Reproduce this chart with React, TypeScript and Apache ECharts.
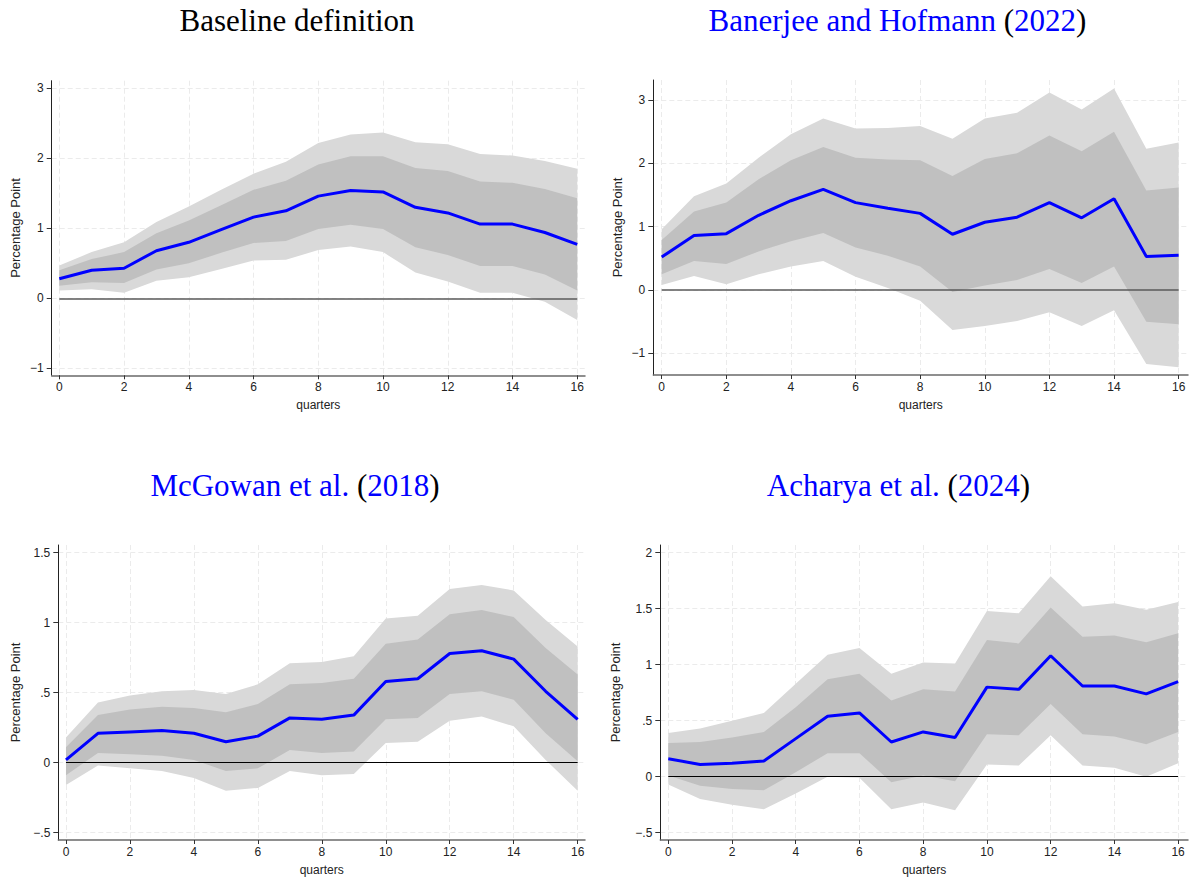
import React, { useEffect, useRef } from "react";
import * as echarts from "echarts";

const quarters = [0, 1, 2, 3, 4, 5, 6, 7, 8, 9, 10, 11, 12, 13, 14, 15, 16];
const xTicks = [0, 2, 4, 6, 8, 10, 12, 14, 16];

// Panel 1: Baseline definition
const baseIrf = [0.28, 0.4, 0.43, 0.68, 0.8, 0.98, 1.16, 1.25, 1.46, 1.54, 1.52, 1.3, 1.22, 1.06, 1.06, 0.94, 0.77];
const baseHi68 = [0.4, 0.56, 0.66, 0.93, 1.11, 1.33, 1.55, 1.68, 1.91, 2.03, 2.03, 1.86, 1.82, 1.67, 1.65, 1.56, 1.43];
const baseLo68 = [0.18, 0.23, 0.22, 0.41, 0.5, 0.65, 0.79, 0.82, 0.99, 1.05, 0.99, 0.73, 0.62, 0.46, 0.46, 0.34, 0.11];
const baseHi90 = [0.47, 0.66, 0.8, 1.09, 1.31, 1.55, 1.78, 1.95, 2.22, 2.34, 2.37, 2.23, 2.2, 2.06, 2.04, 1.96, 1.85];
const baseLo90 = [0.11, 0.13, 0.08, 0.25, 0.3, 0.42, 0.54, 0.55, 0.69, 0.74, 0.66, 0.37, 0.24, 0.08, 0.08, -0.05, -0.31];

// Panel 2: Banerjee and Hofmann (2022)
const bhIrf = [0.52, 0.86, 0.89, 1.18, 1.41, 1.59, 1.38, 1.29, 1.21, 0.88, 1.07, 1.15, 1.38, 1.14, 1.44, 0.53, 0.55];
const bhHi68 = [0.79, 1.24, 1.38, 1.75, 2.05, 2.26, 2.09, 2.06, 2.05, 1.8, 2.07, 2.16, 2.44, 2.19, 2.5, 1.57, 1.62];
const bhLo68 = [0.25, 0.46, 0.41, 0.61, 0.77, 0.9, 0.67, 0.54, 0.37, -0.03, 0.07, 0.16, 0.33, 0.11, 0.37, -0.5, -0.54];
const bhHi90 = [0.96, 1.48, 1.68, 2.09, 2.46, 2.71, 2.55, 2.56, 2.59, 2.39, 2.71, 2.8, 3.12, 2.85, 3.18, 2.23, 2.33];
const bhLo90 = [0.08, 0.22, 0.09, 0.25, 0.37, 0.46, 0.21, 0.03, -0.17, -0.63, -0.57, -0.49, -0.35, -0.57, -0.32, -1.17, -1.22];

// Panel 3: McGowan et al. (2018)
const mgIrf = [0.02, 0.21, 0.22, 0.23, 0.21, 0.15, 0.19, 0.32, 0.31, 0.34, 0.58, 0.6, 0.78, 0.8, 0.74, 0.51, 0.31];
const mgHi68 = [0.11, 0.34, 0.38, 0.4, 0.39, 0.36, 0.42, 0.56, 0.57, 0.6, 0.85, 0.88, 1.06, 1.09, 1.04, 0.82, 0.63];
const mgLo68 = [-0.09, 0.07, 0.06, 0.05, 0.02, -0.06, -0.04, 0.09, 0.07, 0.08, 0.31, 0.32, 0.49, 0.51, 0.45, 0.21, 0.01];
const mgHi90 = [0.18, 0.43, 0.48, 0.51, 0.52, 0.49, 0.56, 0.71, 0.72, 0.76, 1.03, 1.05, 1.24, 1.27, 1.23, 1.02, 0.83];
const mgLo90 = [-0.16, -0.02, -0.04, -0.06, -0.11, -0.2, -0.18, -0.06, -0.09, -0.08, 0.14, 0.15, 0.3, 0.33, 0.26, 0.02, -0.2];

// Panel 4: Acharya et al. (2024)
const acIrf = [0.16, 0.11, 0.12, 0.14, 0.34, 0.54, 0.57, 0.31, 0.4, 0.35, 0.8, 0.78, 1.08, 0.81, 0.81, 0.74, 0.85];
const acHi68 = [0.3, 0.31, 0.35, 0.4, 0.62, 0.87, 0.92, 0.68, 0.78, 0.76, 1.22, 1.19, 1.51, 1.25, 1.26, 1.2, 1.28];
const acLo68 = [0.01, -0.08, -0.11, -0.12, 0.04, 0.21, 0.21, -0.05, 0.01, -0.04, 0.38, 0.37, 0.65, 0.38, 0.36, 0.29, 0.4];
const acHi90 = [0.39, 0.43, 0.5, 0.57, 0.83, 1.09, 1.15, 0.92, 1.02, 1.01, 1.48, 1.46, 1.79, 1.52, 1.55, 1.49, 1.56];
const acLo90 = [-0.07, -0.2, -0.25, -0.29, -0.15, 0.0, -0.01, -0.29, -0.23, -0.3, 0.11, 0.1, 0.37, 0.1, 0.08, 0.0, 0.12];

const yTicks1 = [-1, 0, 1, 2, 3];
const yTicks2 = [-1, 0, 1, 2, 3];
const yTicks3 = [-0.5, 0, 0.5, 1, 1.5];
const yTicks4 = [-0.5, 0, 0.5, 1, 1.5, 2];

const panels = [
  {
    irf: baseIrf, hi68: baseHi68, lo68: baseLo68, hi90: baseHi90, lo90: baseLo90, yTicks: yTicks1,
    grid: { left: 51.7, top: 80.7, width: 533.3, height: 294.6 },
    xMin: -0.235, xMax: 16.24, yMin: -1.1, yMax: 3.109, nameGapY: 30, zeroColor: "#5a5a5a", zeroWidth: 1.5,
  },
  {
    irf: bhIrf, hi68: bhHi68, lo68: bhLo68, hi90: bhHi90, lo90: bhLo90, yTicks: yTicks2,
    grid: { left: 653.3, top: 80, width: 534.7, height: 295 },
    xMin: -0.26, xMax: 16.29, yMin: -1.342, yMax: 3.316, nameGapY: 29, zeroColor: "#5a5a5a", zeroWidth: 1.5,
  },
  {
    irf: mgIrf, hi68: mgHi68, lo68: mgLo68, hi90: mgHi90, lo90: mgLo90, yTicks: yTicks3,
    grid: { left: 58.3, top: 545, width: 526.7, height: 295 },
    xMin: -0.24, xMax: 16.23, yMin: -0.552, yMax: 1.555, nameGapY: 36, zeroColor: "#000000", zeroWidth: 1,
  },
  {
    irf: acIrf, hi68: acHi68, lo68: acLo68, hi90: acHi90, lo90: acLo90, yTicks: yTicks4,
    grid: { left: 660.3, top: 545, width: 527.7, height: 295 },
    xMin: -0.25, xMax: 16.31, yMin: -0.565, yMax: 2.069, nameGapY: 38, zeroColor: "#000000", zeroWidth: 1,
  },
];

const titleTexts = [
  { x: 297, y: 20, text: "{k|Baseline definition}" },
  { x: 897.5, y: 20, text: "{b|Banerjee and Hofmann }{k|(}{b|2022}{k|)}" },
  { x: 295, y: 485, text: "{b|McGowan et al. }{k|(}{b|2018}{k|)}" },
  { x: 898.5, y: 485, text: "{b|Acharya et al. }{k|(}{b|2024}{k|)}" },
];

const SANS = '"Liberation Sans", Arial, sans-serif';
const SERIF = '"Liberation Serif", "DejaVu Serif", serif';
const TITLE_SIZE = 31;

function fmt(v: number): string {
  let s = String(Math.abs(v));
  if (s.startsWith("0.")) s = s.slice(1);
  return (v < 0 ? "\u2212" : "") + s;
}

function band(k: number, lo: number[], hi: number[], color: string, z: number, extra: any = {}) {
  return {
    type: "custom",
    xAxisIndex: k,
    yAxisIndex: k,
    silent: true,
    z,
    data: quarters.map((q, i) => [q, lo[i], hi[i]]),
    encode: { x: 0, y: [1, 2] },
    renderItem: (params: any, api: any) => {
      if (params.dataIndex !== 0) return null;
      const upper = quarters.map((q, i) => api.coord([q, hi[i]]));
      const lower = quarters.map((q, i) => api.coord([q, lo[i]])).reverse();
      return {
        type: "polygon",
        shape: { points: upper.concat(lower) },
        style: { fill: color, stroke: null },
      };
    },
    ...extra,
  };
}

export default function App() {
  const ref = useRef<HTMLDivElement>(null);
  useEffect(() => {
    if (!ref.current) return;
    const chart = echarts.init(ref.current, undefined, { renderer: "svg" });
    const grid: any[] = [];
    const xAxis: any[] = [];
    const yAxis: any[] = [];
    const series: any[] = [];
    panels.forEach((p, k) => {
      grid.push({ ...p.grid, containLabel: false });
      xAxis.push({
        type: "value",
        gridIndex: k,
        min: p.xMin,
        max: p.xMax,
        name: "quarters",
        nameLocation: "middle",
        nameGap: 24,
        nameTextStyle: { fontFamily: SANS, fontSize: 12, color: "#222" },
        axisLine: { show: true, onZero: false, lineStyle: { color: "#6a6a6a", width: 1.5 } },
        axisTick: { show: true, length: 4, customValues: xTicks, lineStyle: { color: "#333", width: 1 } },
        axisLabel: { customValues: xTicks, margin: 6, fontFamily: SANS, fontSize: 12, color: "#222", formatter: (v: number) => fmt(v) },
        splitLine: { show: true, lineStyle: { color: "#ebebeb", width: 1, type: [5, 3] } },
      });
      yAxis.push({
        type: "value",
        gridIndex: k,
        min: p.yMin,
        max: p.yMax,
        name: "Percentage Point",
        nameLocation: "middle",
        nameGap: p.nameGapY,
        nameRotate: 90,
        nameTextStyle: { fontFamily: SANS, fontSize: 13, color: "#222" },
        axisLine: { show: true, onZero: false, lineStyle: { color: "#222", width: 1 } },
        axisTick: { show: true, length: 5, customValues: p.yTicks, lineStyle: { color: "#333", width: 1 } },
        axisLabel: { customValues: p.yTicks, margin: 8, fontFamily: SANS, fontSize: 12, color: "#222", formatter: (v: number) => fmt(v) },
        splitLine: { show: true, lineStyle: { color: "#ebebeb", width: 1, type: [5, 3] } },
      });
      series.push(band(k, p.lo90, p.hi90, "#d9d9d9", 1));
      series.push(
        band(k, p.lo68, p.hi68, "#c0c0c0", 2, {
          markLine: {
            silent: true,
            symbol: "none",
            label: { show: false },
            lineStyle: { color: p.zeroColor, width: p.zeroWidth, type: "solid" },
            data: [[{ coord: [quarters[0], 0] }, { coord: [quarters[quarters.length - 1], 0] }]],
          },
        })
      );
      series.push({
        type: "line",
        xAxisIndex: k,
        yAxisIndex: k,
        z: 5,
        data: quarters.map((q, i) => [q, p.irf[i]]),
        symbol: "none",
        lineStyle: { color: "#0000ff", width: 3 },
        itemStyle: { color: "#0000ff" },
      });
    });
    const graphic = titleTexts.map((t) => ({
      type: "text",
      x: t.x,
      y: t.y,
      style: {
        text: t.text,
        align: "center",
        verticalAlign: "middle",
        textAlign: "center",
        textVerticalAlign: "middle",
        font: `${TITLE_SIZE}px ${SERIF}`,
        rich: {
          b: { fontFamily: SERIF, fontSize: TITLE_SIZE, color: "#0000ff", fill: "#0000ff" },
          k: { fontFamily: SERIF, fontSize: TITLE_SIZE, color: "#000000", fill: "#000000" },
        },
      },
    }));
    chart.setOption({
      animation: false,
      backgroundColor: "#ffffff",
      grid,
      xAxis,
      yAxis,
      series,
      graphic,
    });
    return () => chart.dispose();
  }, []);
  return <div ref={ref} style={{ position: "absolute", left: 0, top: 0, width: 1192, height: 880 }} />;
}
